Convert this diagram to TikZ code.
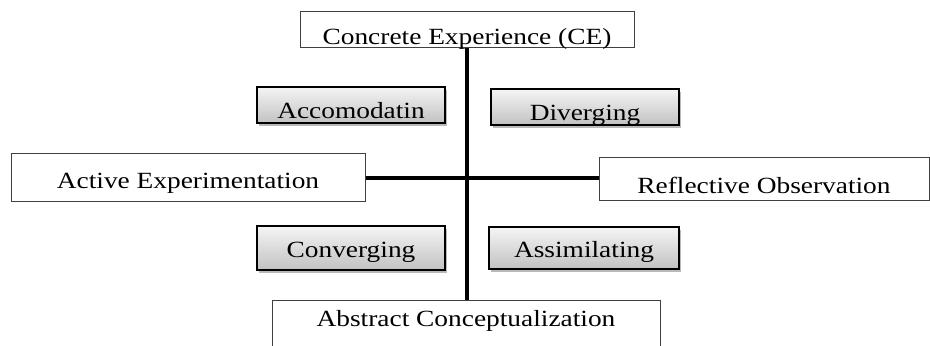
\documentclass[tikz,border=0pt]{standalone}
\usepackage{fontspec}
\setmainfont{Liberation Serif}[FakeStretch=1.18]
\usetikzlibrary{positioning,shadows}
\tikzset{
    stage/.style={draw=black!75,line width=0.5pt,rectangle,inner sep=1pt,text depth=0pt,fill=white,font=\fontsize{11.6}{14}\selectfont},
    kind/.style={stage,draw=black,line width=0.7pt,top color=black!4,bottom color=black!24,drop shadow={shadow xshift=1.2pt,shadow yshift=-1.6pt,fill=black!55,opacity=0.5}},
    sink/.style={text height=#1pt},
}

\begin{document}
\begin{tikzpicture}[x=0.5pt,y=-0.5pt,-,line width=1.8pt]
                \useasboundingbox (0,0) rectangle (930,346);

                % axes first, boxes on top
                \node[stage,minimum width=167pt,minimum height=18pt,sink=15] (ce) at (467,30) {Concrete Experience (CE)};
                \node[stage,minimum width=194pt,minimum height=24pt,sink=2] (ac) at (466,325) {Abstract Conceptualization};
                \node[stage,minimum width=177pt,minimum height=24pt,sink=11] (ae) at (188,178) {Active Experimentation};
                \node[stage,minimum width=165pt,minimum height=21.5pt,sink=14.5] (ro) at (764,179.5) {Reflective Observation};

                \path
                    (ce.south) edge (ce.south |- ac.north)
                    (ae.east) edge (ae.east -| ro.west)
                    ;

                % learning styles
                \node[kind,minimum width=94pt,minimum height=18pt,sink=14] (acc) at (351,105) {Accomodatin};
                \node[kind,minimum width=94pt,minimum height=18pt,sink=14] (div) at (585,107) {Diverging};
                \node[kind,minimum width=94pt,minimum height=22pt,sink=10] (con) at (351,248) {Converging};
                \node[kind,minimum width=95pt,minimum height=21pt,sink=10] (ass) at (584,248) {Assimilating};
            \end{tikzpicture}
\end{document}
